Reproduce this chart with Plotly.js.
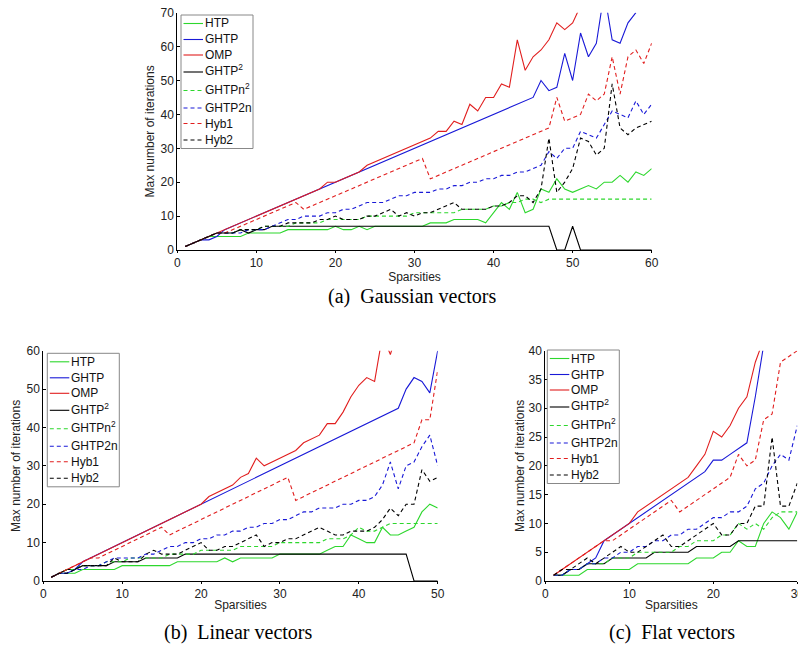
<!DOCTYPE html>
<html><head><meta charset="utf-8">
<script src="https://cdn.plot.ly/plotly-3.0.1.min.js"></script>
<style>html,body{margin:0;padding:0;background:#fff}#chart{width:798px;height:648px}</style>
</head><body><div id="chart"></div>
<script>
// ---------- data ----------
const seriesNames = ['HTP','GHTP','OMP','GHTP<sup>2</sup>','GHTPn<sup>2</sup>','GHTP2n','Hyb1','Hyb2'];

const sparsA = [1,2,3,4,5,6,7,8,9,10,11,12,13,14,15,16,17,18,19,20,21,22,23,24,25,26,27,28,29,30,31,32,33,34,35,36,37,38,39,40,41,42,43,44,45,46,47,48,49,50,51,52,53,54,55,56,57,58,59,60];
const sparsB = [1,2,3,4,5,6,7,8,9,10,11,12,13,14,15,16,17,18,19,20,21,22,23,24,25,26,27,28,29,30,31,32,33,34,35,36,37,38,39,40,41,42,43,44,45,46,47,48,49,50];
const sparsC = [1,2,3,4,5,6,7,8,9,10,11,12,13,14,15,16,17,18,19,20,21,22,23,24,25,26,27,28,29,30];

// (a) Gaussian vectors
const htpA    = [1,2,3,4,4,4,4,4,5,5,5,5,5,6,6,6,6,6,6,7,6,6,7,6,7,7,7,7,7,7,7,8,8,8,9,9,9,9,8,11,14,12,17,11,12,18,17,21,18,17,18,19,18,20,20,22,20,23,22,24];
const ghtpA   = [1,2,3,3,4,6,7,8,9,10,11,12,13,14,15,16,17,18,19,20,21,22,23,24,25,26,27,28,29,30,31,32,33,34,35,36,37,38,39,40,41,42,43,44,45,50,47,48,58,50,64,57,61,76,62,61,67,70];
const ompA    = [1,2,3,4,5,6,7,8,9,10,11,12,13,14,15,16,17,18,20,20,21,22,23,25,26,27,28,29,30,31,32,33,35,35,38,37,43,41,45,45,49,48,62,53,57,59,62,67,65,67,72];
const ghtp2A  = [1,2,3,4,5,5,5,6,5,6,6,7,7,7,7,7,7,7,7,7,7,7,7,7,7,7,7,7,7,7,7,7,7,7,7,7,7,7,7,7,7,7,7,7,7,7,7,0,0,7,0,0,0,0,0,0,0,0,0,0];
const ghtpn2A = [1,2,3,4,5,5,5,6,6,6,7,7,7,7,8,8,8,8,9,9,9,9,9,10,10,10,10,10,10,11,11,11,11,11,11,12,12,12,12,13,13,14,14,15,15,14,15,15,15,15,15,15,15,15,15,15,15,15,15,15];
const ghtp2nA = [1,2,3,4,5,5,5,5,6,6,6,7,8,9,9,10,10,10,11,11,12,12,13,14,14,14,15,16,16,17,17,17,18,18,19,19,20,20,21,21,22,22,23,23,24,25,29,27,30,30,35,34,33,37,41,40,39,44,40,43];
const hyb1A   = [1,2,3,4,5,5,6,7,8,9,10,11,12,13,14,12,13,14,15,16,17,18,19,20,21,22,23,24,25,26,27,21,22,23,24,25,26,27,28,29,30,31,32,33,34,35,36,45,38,39,40,46,44,46,57,46,57,59,55,61];
const hyb2A   = [1,2,3,4,5,5,5,6,6,6,7,7,7,8,8,8,8,9,9,10,9,9,9,10,10,11,12,10,11,10,11,11,12,13,14,12,12,12,12,13,13,14,16,16,14,18,33,17,20,24,33,32,28,30,49,36,34,36,37,38];

// (b) Linear vectors
const htpB    = [1,2,2,2,3,3,3,3,3,4,4,4,4,4,4,4,5,5,5,5,5,5,6,5,6,6,6,6,6,7,7,7,7,7,7,8,9,9,12,11,10,10,14,12,12,13,14,18,20,19];
const ghtpB   = [1,2,2,3,5,6,7,8,9,10,11,12,13,14,15,16,17,18,19,20,21,22,23,24,25,26,27,28,29,30,31,32,33,34,35,36,37,38,39,40,41,42,43,44,45,50,53,52,49,60];
const ompB    = [1,2,3,4,5,6,7,8,9,10,11,12,13,14,15,16,17,18,19,20,22,23,24,25,27,28,32,30,31,32,33,34,36,37,38,41,41,44,48,51,53,52,64,59,66];
const ghtp2B  = [1,2,3,3,4,4,4,4,5,5,5,5,6,6,6,6,6,7,7,7,7,7,7,7,7,7,7,7,7,7,7,7,7,7,7,7,7,7,7,7,7,7,7,7,7,7,0,0,0,0];
const ghtpn2B = [1,2,3,3,4,4,4,5,5,5,6,6,6,6,6,7,7,7,7,8,8,8,8,8,9,9,9,9,9,10,10,10,10,10,10,11,11,11,12,14,13,13,14,15,15,15,15,15,15,15];
const ghtp2nB = [1,2,2,3,3,4,4,5,6,6,6,6,7,7,8,9,9,10,10,11,11,12,12,13,13,14,14,15,15,16,16,17,18,18,19,19,19,20,20,21,21,22,25,31,24,30,31,35,38,30];
const hyb1B   = [1,2,3,4,5,6,6,7,8,9,10,11,12,13,14,12,13,14,15,16,17,18,19,20,21,22,23,24,25,26,27,21,22,23,24,25,26,27,28,29,30,31,32,33,34,35,36,42,42,55];
const hyb2B   = [1,2,2,3,4,4,4,4,6,5,5,5,7,8,7,7,7,8,9,10,8,8,9,9,10,11,12,9,10,10,11,11,12,13,14,13,12,12,13,13,13,14,16,19,17,20,20,29,26,27];

// (c) Flat vectors
const htpC    = [1,1,1,1,2,2,2,2,2,2,3,3,3,3,3,3,3,4,4,4,5,5,7,6,6,10,12,11,9,12];
const ghtpC   = [1,1,2,2,3,4,7,8,9,10,11,12,13,14,15,16,17,18,19,21,21,22,23,24,32,41];
const ompC    = [1,2,3,4,5,6,7,8,9,10,12,13,14,15,16,17,18,20,22,26,25,27,30,32,38,42];
const ghtp2C  = [1,1,2,2,3,3,3,4,4,4,4,4,5,5,5,5,5,6,6,6,6,6,7,7,7,7,7,7,7,7];
const ghtpn2C = [1,1,2,2,3,3,3,4,4,4,5,5,5,5,5,6,6,7,7,7,8,8,10,9,10,9,11,12,12,12];
const ghtp2nC = [1,1,2,2,3,3,4,4,5,5,6,6,7,7,8,8,9,9,10,11,11,12,12,13,16,17,20,22,21,27];
const hyb1C   = [1,2,3,4,5,6,7,7,8,9,10,11,12,13,14,12,13,14,15,16,17,18,22,20,21,28,29,38,39,40];
const hyb2C   = [1,2,2,3,4,3,4,5,6,5,5,6,7,8,6,6,7,8,9,10,8,8,10,10,13,13,25,13,13,17];

const yTicksA = [0,10,20,30,40,50,60,70];
const yTicksB = [0,10,20,30,40,50,60];
const yTicksC = [0,5,10,15,20,25,30,35,40];
const xTicksA = [0,10,20,30,40,50,60];
const xTicksB = [0,10,20,30,40,50];
const xTicksC = [0,10,20,30];

const captions = ['(a)\u00a0\u00a0Gaussian vectors', '(b)\u00a0\u00a0Linear vectors', '(c)\u00a0\u00a0Flat vectors'];

// ---------- styles ----------
const GREEN = 'rgb(45,215,45)', BLUE = 'rgb(25,25,215)', RED = 'rgb(225,30,30)', BLACK = 'rgb(0,0,0)';
const seriesColors = [GREEN, BLUE, RED, BLACK, GREEN, BLUE, RED, BLACK];
const DASH = '4px,3px';
const seriesDash = ['solid','solid','solid','solid',DASH,DASH,DASH,DASH];

const W = 798, H = 648;
const px = v => v / W;
const py = v => 1 - v / H;

const panels = [
  {xa:'x',  ya:'y',  spars:sparsA, data:[htpA,ghtpA,ompA,ghtp2A,ghtpn2A,ghtp2nA,hyb1A,hyb2A]},
  {xa:'x2', ya:'y2', spars:sparsB, data:[htpB,ghtpB,ompB,ghtp2B,ghtpn2B,ghtp2nB,hyb1B,hyb2B]},
  {xa:'x3', ya:'y3', spars:sparsC, data:[htpC,ghtpC,ompC,ghtp2C,ghtpn2C,ghtp2nC,hyb1C,hyb2C]}
];

const traces = [];
panels.forEach(p => {
  p.data.forEach((ys, i) => {
    traces.push({
      type:'scatter', mode:'lines', name: seriesNames[i],
      x: p.spars.slice(0, ys.length), y: ys,
      xaxis: p.xa, yaxis: p.ya, showlegend:false,
      line:{color: seriesColors[i], width:1.1, dash: seriesDash[i]},
      hoverinfo:'skip'
    });
  });
});

const FONT = 'Liberation Sans, Arial, sans-serif';
function xAxis(domain, anchor, range, ticks) {
  return {domain, anchor, range, tickvals: ticks, ticktext: ticks.map(String),
    showline:true, linecolor:'#000', linewidth:1, mirror:false, ticklabeloverflow:'allow',
    ticks:'outside', ticklen:2, tickcolor:'#000', showgrid:false, zeroline:false,
    tickfont:{family:FONT, size:12, color:'#222'},
    title:{text:'Sparsities', font:{family:FONT, size:12, color:'#222'}, standoff:0}};
}
function yAxis(domain, anchor, range, ticks, standoff) {
  return {domain, anchor, range, tickvals: ticks, ticktext: ticks.map(String),
    showline:true, linecolor:'#000', linewidth:1, mirror:false, ticklabeloverflow:'allow',
    ticks:'inside', ticklen:3, tickcolor:'#000', showgrid:false, zeroline:false,
    tickfont:{family:FONT, size:12, color:'#222'},
    title:{text:'Max number of iterations', font:{family:FONT, size:12, color:'#222'}, standoff:standoff}};
}

const shapes = [];
const annotations = [];
// custom legends (box top-left in px)
const legendBoxes = [[181, 15], [47.3, 353.3], [547.3, 350]];
const entryOffsets = [8.5, 24.5, 40, 57, 75.5, 93, 108.5, 125];
legendBoxes.forEach(([bx, by]) => {
  shapes.push({type:'rect', xref:'paper', yref:'paper', x0:px(bx), x1:px(bx+72), y0:py(by), y1:py(by+133.5),
    line:{color:'#888', width:1}, fillcolor:'#fff', layer:'above'});
  seriesNames.forEach((n, i) => {
    const yy = by + entryOffsets[i];
    shapes.push({type:'line', xref:'paper', yref:'paper', x0:px(bx+2.5), x1:px(bx+22), y0:py(yy), y1:py(yy),
      line:{color: seriesColors[i], width:1.1, dash: seriesDash[i]}, layer:'above'});
    annotations.push({xref:'paper', yref:'paper', x:px(bx+22), y:py(yy + (n.indexOf('sup')>=0 ? -1.5 : 0)), text:n,
      xanchor:'left', yanchor:'middle', showarrow:false,
      font:{family:FONT, size:12, color:'#111'}});
  });
});
// captions
[[412, 297], [238, 632], [672, 632]].forEach(([cx, cy], i) => {
  annotations.push({xref:'paper', yref:'paper', x:px(cx), y:py(cy), text:captions[i], xanchor:'center', yanchor:'middle',
    showarrow:false, font:{family:'Liberation Serif, Times New Roman, serif', size:20, color:'#000'}});
});

const layout = {
  width:W, height:H, margin:{l:0, r:0, t:0, b:0}, paper_bgcolor:'#fff', plot_bgcolor:'#fff',
  showlegend:false,
  xaxis:  xAxis([px(177.3), px(651.7)], 'y',  [0,60], xTicksA),
  yaxis:  yAxis([py(250), py(12.7)],    'x',  [0,70], yTicksA, 3),
  xaxis2: xAxis([px(43.3), px(437.7)],  'y2', [0,50], xTicksB),
  yaxis2: yAxis([py(581), py(350.7)],   'x2', [0,60], yTicksB, 3),
  xaxis3: xAxis([px(545.3), px(797.3)], 'y3', [0,30], xTicksC),
  yaxis3: yAxis([py(581), py(350.7)],   'x3', [0,40], yTicksC, 1),
  shapes, annotations
};
Plotly.newPlot('chart', traces, layout, {displayModeBar:false, staticPlot:true});
</script></body></html>
